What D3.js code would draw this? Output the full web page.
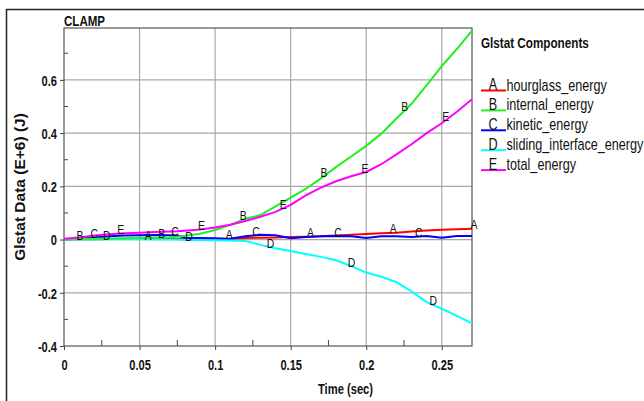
<!DOCTYPE html>
<html><head><meta charset="utf-8">
<script src="https://cdn.jsdelivr.net/npm/d3@7"></script>
<style>
html,body{margin:0;padding:0;background:#fff;}
svg{display:block;}
text{font-family:"Liberation Sans",Arial,sans-serif;}
</style></head>
<body>
<svg id="c" width="644" height="401"></svg>
<script>
const time = [0,0.01,0.02,0.03,0.04,0.05,0.06,0.07,0.075,0.08,0.09,0.1,0.11,0.12,0.13,0.14,0.15,0.16,0.17,0.18,0.19,0.2,0.21,0.22,0.23,0.24,0.25,0.26,0.27];
const hourglass = [0,0.001,0.001,0.002,0.002,0.002,0.002,0.002,0.002,0.002,0.002,0.002,0.003,0.006,0.007,0.008,0.01,0.011,0.012,0.015,0.018,0.021,0.024,0.026,0.03,0.034,0.037,0.039,0.041];
const internal = [0,0.002,0.003,0.004,0.005,0.006,0.007,0.009,0.011,0.014,0.022,0.036,0.055,0.078,0.092,0.125,0.158,0.19,0.23,0.272,0.312,0.352,0.398,0.455,0.51,0.58,0.652,0.716,0.785];
const kinetic = [0,0.004,0.008,0.012,0.015,0.016,0.017,0.016,0.015,0.007,0.006,0.005,0.003,0.012,0.018,0.016,0.005,0.01,0.012,0.013,0.012,0.006,0.012,0.012,0.01,0.013,0.007,0.013,0.013];
const sliding = [0,0,0,0.001,0.001,0.001,0,0,0,-0.002,-0.002,-0.003,-0.004,-0.005,-0.02,-0.033,-0.043,-0.054,-0.065,-0.078,-0.1,-0.124,-0.14,-0.16,-0.195,-0.235,-0.26,-0.287,-0.315];
const total = [0.003,0.008,0.015,0.02,0.024,0.026,0.028,0.03,0.031,0.033,0.038,0.045,0.056,0.07,0.086,0.104,0.13,0.166,0.195,0.219,0.238,0.254,0.283,0.32,0.358,0.4,0.437,0.48,0.527];

const seriesNames = ["hourglass_energy","internal_energy","kinetic_energy","sliding_interface_energy","total_energy"];
const seriesLetters = ["A","B","C","D","E"];
const seriesColors = ["#ff0000","#22ee22","#0000ff","#00ffff","#ff00ff"];
const seriesValues = [hourglass, internal, kinetic, sliding, total];
const labelTimes = [
  [0.0558,0.1093,0.1631,0.2178,0.2713],
  [0.0106,0.0646,0.1186,0.1720,0.2255],
  [0.0201,0.0734,0.1270,0.1814,0.2348],
  [0.0283,0.0827,0.1367,0.1903,0.2443],
  [0.0375,0.0910,0.1450,0.1991,0.2526]
];
const xTicks = [0,0.05,0.1,0.15,0.2,0.25];
const xMinor = [0.025,0.075,0.125,0.175,0.225];
const yTicks = [-0.4,-0.2,0,0.2,0.4,0.6];
const yMinor = [-0.3,-0.1,0.1,0.3,0.5,0.7];
const titleText = "CLAMP";
const yTitle = "Glstat Data (E+6) (J)";
const xTitle = "Time (sec)";
const legendTitle = "Glstat Components";

const svg = d3.select("#c");
const L=64, R=472, T=28, B=346;
const x = d3.scaleLinear().domain([0,0.27]).range([L,R]);
const y = d3.scaleLinear().domain([-0.4,0.795]).range([B,T]);
const fmt = d => d===0 ? "0" : String(+d.toFixed(2));
const SX = 0.76; // condensed look

function ntext(parent, px, py, str, size, opts={}){
  const t = parent.append("text")
    .attr("transform",`translate(${px},${py}) scale(${opts.sx||SX},1)`)
    .attr("font-size",size).attr("fill","#111").text(str);
  if(opts.bold) t.attr("font-weight","bold");
  if(opts.anchor) t.attr("text-anchor",opts.anchor);
  return t;
}

// outer frame
svg.append("path").attr("d",`M6.5,401 V9.5 H644`).attr("fill","none").attr("stroke","#222").attr("stroke-width",1.5);

// grid
const g = svg.append("g");
g.selectAll(".gx").data(xTicks.filter(d=>d>0)).join("line")
  .attr("x1",d=>x(d)).attr("x2",d=>x(d)).attr("y1",T).attr("y2",B)
  .attr("stroke","#a8a8a8").attr("stroke-width",1.2);
g.selectAll(".gy").data(yTicks.filter(d=>d>-0.4)).join("line")
  .attr("y1",d=>y(d)).attr("y2",d=>y(d)).attr("x1",L).attr("x2",R)
  .attr("stroke","#a8a8a8").attr("stroke-width",1.2);

// minor ticks
g.selectAll(".mx").data(xMinor).join("line")
  .attr("x1",d=>x(d)).attr("x2",d=>x(d)).attr("y1",B).attr("y2",B-6)
  .attr("stroke","#444").attr("stroke-width",1);
g.selectAll(".my").data(yMinor).join("line")
  .attr("y1",d=>y(d)).attr("y2",d=>y(d)).attr("x1",L).attr("x2",L+4)
  .attr("stroke","#444").attr("stroke-width",1);

// axes
const xAxis = svg.append("g").attr("transform",`translate(0,${B})`)
  .call(d3.axisBottom(x).tickValues(xTicks).tickFormat(fmt).tickSize(4).tickSizeOuter(0));
const yAxis = svg.append("g").attr("transform",`translate(${L},0)`)
  .call(d3.axisLeft(y).tickValues(yTicks).tickFormat(fmt).tickSize(4).tickSizeOuter(0));
[xAxis,yAxis].forEach(a=>{
  a.select(".domain").remove();
  a.selectAll("line").attr("stroke","#444");
  a.selectAll("text").attr("font-size",15).attr("font-weight","bold").attr("fill","#111")
    .attr("font-family",'"Liberation Sans",Arial,sans-serif');
});
xAxis.selectAll("text").attr("dy",null).attr("y",null).attr("transform",`translate(0,23.5) scale(${SX-0.02},1)`);
yAxis.selectAll("text").attr("x",null).attr("dy","0.36em").attr("transform",`translate(-7,0) scale(${SX-0.02},1)`);

// plot frame
svg.append("rect").attr("x",L).attr("y",T).attr("width",R-L).attr("height",B-T)
  .attr("fill","none").attr("stroke","#555").attr("stroke-width",1.2);

// lines
const line = d3.line().x((d,i)=>x(time[i])).y(d=>y(d));
svg.append("clipPath").attr("id","cp").append("rect").attr("x",L).attr("y",T-2).attr("width",R-L+1).attr("height",B-T+4);
const lg = svg.append("g").attr("clip-path","url(#cp)");
[0,2,3,1,4].forEach(k=>{
  lg.append("path").attr("d",line(seriesValues[k])).attr("fill","none")
    .attr("stroke",seriesColors[k]).attr("stroke-width",2);
});

// curve letters
const interp = (arr,t)=>{
  const i = Math.min(d3.bisectRight(time,t),time.length-1);
  const t0=time[i-1], t1=time[i];
  return arr[i-1]+(arr[i]-arr[i-1])*(t-t0)/(t1-t0);
};
const cl = svg.append("g");
labelTimes.forEach((ts,k)=>{
  ts.forEach(t=>{
    ntext(cl, x(t), y(interp(seriesValues[k],t))+0.5, seriesLetters[k], 13, {anchor:"middle", sx:0.8});
  });
});

// titles
ntext(svg, L, 25.5, titleText, 15, {bold:true, sx:0.77});
svg.append("text").attr("transform","translate(25,187) rotate(-90)").attr("text-anchor","middle")
  .attr("font-size",15.5).attr("font-weight","bold").attr("fill","#111").text(yTitle);
ntext(svg, 345.5, 393.5, xTitle, 14.5, {bold:true, anchor:"middle", sx:0.77});

// legend
ntext(svg, 481, 48, legendTitle, 15, {bold:true, sx:0.78});
const leg = svg.append("g");
seriesNames.forEach((n,k)=>{
  const yy = 90.5 + k*19.9;
  leg.append("line").attr("x1",481).attr("x2",506).attr("y1",yy).attr("y2",yy).attr("stroke",seriesColors[k]).attr("stroke-width",2);
  ntext(leg, 493, yy-0.5, seriesLetters[k], 16, {anchor:"middle", sx:0.79});
  ntext(leg, 506.5, yy, n, 16, {sx:0.79});
});
</script>
</body></html>
